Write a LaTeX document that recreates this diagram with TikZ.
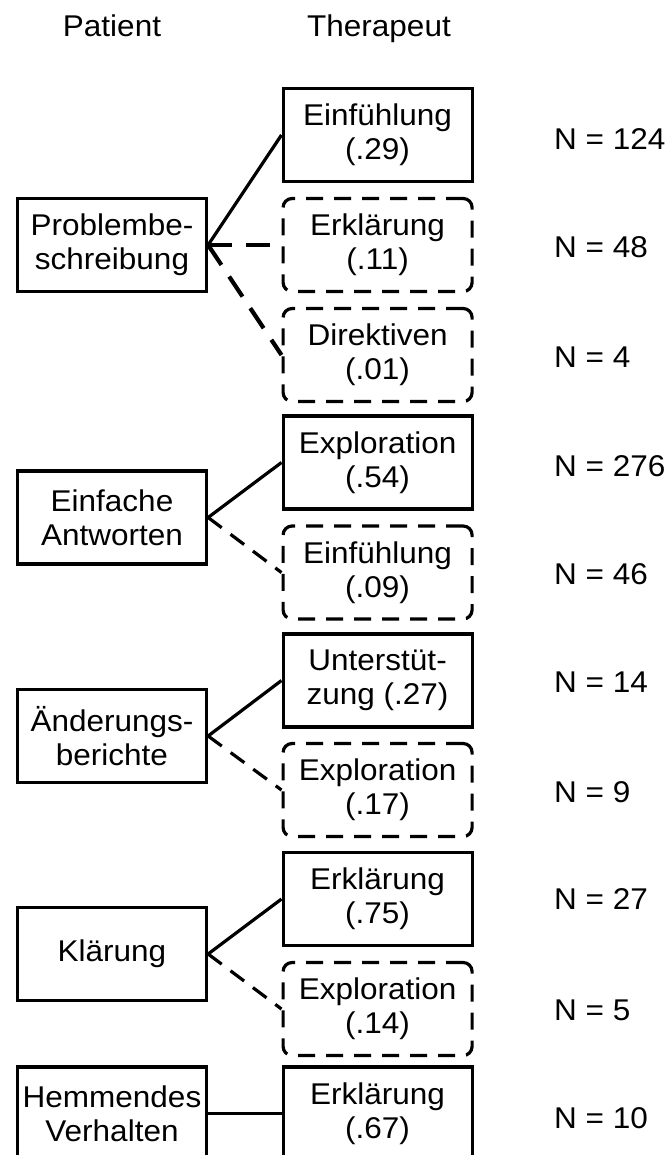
\documentclass[tikz,border=0pt]{standalone}
\usepackage{fontspec}
\setmainfont{Liberation Sans}
\newfontfamily\labfont[FakeStretch=1.05]{Liberation Sans}
\begin{document}
\begin{tikzpicture}[x=1pt,y=-1pt,
  every node/.style={align=center, inner sep=0pt},
  pbox/.style={draw, line width=3.2pt, minimum width=189pt, minimum height=93pt,
    font=\labfont\fontsize{30pt}{34pt}\selectfont},
  tbox/.style={pbox},
  tdash/.style={pbox, dash pattern=on 17pt off 11pt, rounded corners=9pt},
  link/.style={line width=3.2pt},
  dlink/.style={line width=3.2pt, dash pattern=on 17pt off 11pt},
  dlinkb/.style={line width=4.2pt, dash pattern=on 24pt off 14pt},
  nlab/.style={anchor=west, font=\labfont\fontsize{30pt}{36pt}\selectfont},
  head/.style={anchor=base, font=\labfont\fontsize{30pt}{36pt}\selectfont}
]
\useasboundingbox (0,0) rectangle (667,1155);

% headers
\node[head] (hp) at (112,37) {Patient};
\node[head] (ht) at (379,37) {Therapeut};

% patient boxes
\node[pbox] (p1) at (112,245) {Problembe-\\schreibung};
\node[pbox] (p2) at (112,517.5) {Einfache\\Antworten};
\node[pbox] (p3) at (112,736) {Änderungs-\\berichte};
\node[pbox] (p4) at (112,954) {Klärung};
\node[pbox] (p5) at (112,1113.5) {Hemmendes\\Verhalten};

% therapist boxes
\node[tbox]  (t1)  at (377.6,135)    {Einfühlung\\(.29)};
\node[tdash] (t2)  at (377.6,245)    {Erklärung\\(.11)};
\node[tdash] (t3)  at (377.6,355)    {Direktiven\\(.01)};
\node[tbox]  (t4)  at (377.6,462.5)  {Exploration\\(.54)};
\node[tdash] (t5)  at (377.6,572.5)  {Einfühlung\\(.09)};
\node[tbox]  (t6)  at (377.6,680.5)  {Unterstüt-\\zung (.27)};
\node[tdash] (t7)  at (377.6,790)    {Exploration\\(.17)};
\node[tbox]  (t8)  at (377.6,899)    {Erklärung\\(.75)};
\node[tdash] (t9)  at (377.6,1009)   {Exploration\\(.14)};
\node[tbox]  (t10) at (377.6,1113.5) {Erklärung\\(.67)};

% N labels
\node[nlab] (n1)  at (554,139)  {N = 124};
\node[nlab] (n2)  at (554,247)  {N = 48};
\node[nlab] (n3)  at (554,357)  {N = 4};
\node[nlab] (n4)  at (554,466)  {N = 276};
\node[nlab] (n5)  at (554,574)  {N = 46};
\node[nlab] (n6)  at (554,682)  {N = 14};
\node[nlab] (n7)  at (554,792)  {N = 9};
\node[nlab] (n8)  at (554,899)  {N = 27};
\node[nlab] (n9)  at (554,1010) {N = 5};
\node[nlab] (n10) at (554,1118) {N = 10};

% connectors
\draw[link]   (p1.east) -- (t1.west);
\draw[dlinkb] (p1.east) -- (t2.west);
\draw[dlinkb] (p1.east) -- (t3.west);
\draw[link]   (p2.east) -- (t4.west);
\draw[dlink]  (p2.east) -- (t5.west);
\draw[link]   (p3.east) -- (t6.west);
\draw[dlink]  (p3.east) -- (t7.west);
\draw[link]   (p4.east) -- (t8.west);
\draw[dlink]  (p4.east) -- (t9.west);
\draw[link]   (p5.east) -- (t10.west);
\end{tikzpicture}
\end{document}
